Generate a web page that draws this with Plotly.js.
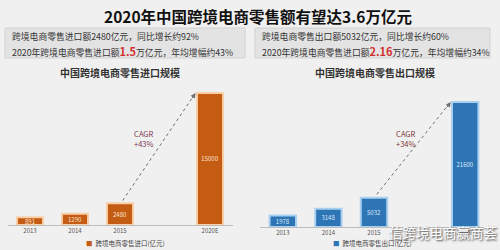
<!DOCTYPE html>
<html><head><meta charset="utf-8">
<script src="https://cdn.plot.ly/plotly-3.0.1.min.js"></script>
<style>html,body{margin:0;padding:0;background:#f1f0f0;}#c{width:500px;height:250px;}</style>
</head><body><div id="c"></div>
<script>
const categories = ['2013','2014','2015',' ','2020E'];
const importYears = ['2013','2014','2015','2020E'];
const importValues = [891, 1290, 2480, 15000];
const exportYears = ['2013','2014','2015','2020E'];
const exportValues = [1978, 3148, 5032, 21600];
const importName = '跨境电商零售进口(亿元)';
const exportName = '跨境电商零售出口(亿元)';
const importCAGR = '+43%';
const exportCAGR = '+34%';

const FONT = 'Noto Sans CJK SC, Noto Sans, sans-serif';
const IMP = '#c55c14', EXP = '#2e75b6';
const idx = y => categories.indexOf(y);

const traces = [
  {type:'bar', x: importYears, y: importValues, name: importName, xaxis:'x', yaxis:'y',
   marker:{color:IMP, line:{color:'#f9cfa8', width:2}},
   text: importValues.map(String), textposition:'inside', insidetextanchor:'middle', constraintext:'none',
   textfont:{color:'#fbe3cf', size:6, family:FONT}, hoverinfo:'skip'},
  {type:'bar', x: exportYears, y: exportValues, name: exportName, xaxis:'x2', yaxis:'y2',
   marker:{color:EXP, line:{color:'#a9d1ef', width:2}},
   text: exportValues.map(String), textposition:'inside', insidetextanchor:'middle', constraintext:'none',
   textfont:{color:'#d8e8f6', size:6, family:FONT}, hoverinfo:'skip'}
];

const axX = {type:'category', categoryorder:'array', categoryarray: categories, showline:true, linecolor:'#bdbdbd', linewidth:1,
  ticks:'', showgrid:false, zeroline:false, tickfont:{size:6, color:'#555', family:FONT}, fixedrange:true};

function arrow(xa, ya, years, vals){
  const i0 = idx(years[2]), i1 = idx(years[3]);
  return {type:'line', xref:xa, yref:ya, x0:i0+0.06, y0:vals[2]*1.12, x1:i1-0.32, y1:vals[3],
    line:{color:'#6f6f6f', width:1, dash:'dot'}};
}
function arrowHead(xa, ya, years, vals, ax, ay){
  const i1 = idx(years[3]);
  return {xref:xa, yref:ya, x:i1-0.32, y:vals[3], ax:ax, ay:ay, axref:'pixel', ayref:'pixel', text:'',
    showarrow:true, arrowhead:2, arrowsize:1, arrowwidth:1, arrowcolor:'#6f6f6f'};
}
function legendItem(x, name, color){
  return {xref:'paper', yref:'paper', x:x, y:0.028, xanchor:'left', yanchor:'middle', showarrow:false,
    text:'<span style="color:'+color+'">■</span>  '+name, font:{size:6.5, color:'#444', family:FONT}};
}

const layout = {
  width:500, height:250, margin:{l:0,r:0,t:0,b:0},
  paper_bgcolor:'#f1f0f0', plot_bgcolor:'rgba(0,0,0,0)',
  showlegend:false, bargap:0.42,
  font:{family:FONT},
  xaxis: Object.assign({domain:[0.015,0.465], anchor:'y'}, axX),
  xaxis2: Object.assign({domain:[0.52,0.976], anchor:'y2'}, axX),
  yaxis: {domain:[0.1,0.66], range:[0,15900], visible:false, fixedrange:true},
  yaxis2: {domain:[0.092,0.62], range:[0,22800], visible:false, fixedrange:true},
  shapes: [
    {type:'rect', xref:'paper', yref:'paper', x0:0.01, x1:0.49, y0:0.768, y1:0.888, fillcolor:'#e4e3e3', line:{color:'#d2d2d2', width:1}, layer:'below'},
    {type:'rect', xref:'paper', yref:'paper', x0:0.51, x1:0.98, y0:0.768, y1:0.888, fillcolor:'#e4e3e3', line:{color:'#d2d2d2', width:1}, layer:'below'},
    arrow('x','y', importYears, importValues),
    arrow('x2','y2', exportYears, exportValues)
  ],
  annotations: [
    {xref:'paper', yref:'paper', x:0.515, y:0.936, xanchor:'center', yanchor:'middle', showarrow:false,
     text:'<b>2020年中国跨境电商零售额有望达3.6万亿元</b>', font:{size:15.5, color:'#111', family:FONT}},
    {xref:'paper', yref:'paper', x:0.02, y:0.853, xanchor:'left', yanchor:'middle', showarrow:false,
     text:'跨境电商零售进口额2480亿元，同比增长约92%', font:{size:8.8, color:'#333', family:FONT}},
    {xref:'paper', yref:'paper', x:0.02, y:0.796, xanchor:'left', yanchor:'middle', showarrow:false,
     text:'2020年跨境电商零售进口额<span style="color:#d23030;font-size:11px"><b>1.5</b></span>万亿元，年均增幅约43%', font:{size:8.8, color:'#333', family:FONT}},
    {xref:'paper', yref:'paper', x:0.52, y:0.853, xanchor:'left', yanchor:'middle', showarrow:false,
     text:'跨境电商零售出口额5032亿元，同比增长约60%', font:{size:8.8, color:'#333', family:FONT}},
    {xref:'paper', yref:'paper', x:0.52, y:0.796, xanchor:'left', yanchor:'middle', showarrow:false,
     text:'2020年跨境电商零售进口额<span style="color:#d23030;font-size:11px"><b>2.16</b></span>万亿元，年均增幅约34%', font:{size:8.8, color:'#333', family:FONT}},
    {xref:'paper', yref:'paper', x:0.24, y:0.712, xanchor:'center', yanchor:'middle', showarrow:false,
     text:'<b>中国跨境电商零售进口规模</b>', font:{size:10, color:'#333', family:FONT}},
    {xref:'paper', yref:'paper', x:0.75, y:0.712, xanchor:'center', yanchor:'middle', showarrow:false,
     text:'<b>中国跨境电商零售出口规模</b>', font:{size:10, color:'#333', family:FONT}},
    {xref:'paper', yref:'paper', x:0.288, y:0.445, xanchor:'center', yanchor:'middle', showarrow:false,
     text:'CAGR<br>'+importCAGR, align:'center', font:{size:7.5, color:'#7a3550', family:FONT}},
    {xref:'paper', yref:'paper', x:0.812, y:0.445, xanchor:'center', yanchor:'middle', showarrow:false,
     text:'CAGR<br>'+exportCAGR, align:'center', font:{size:7.5, color:'#7a3535', family:FONT}},
    arrowHead('x','y', importYears, importValues, -4.5, 6.6),
    arrowHead('x2','y2', exportYears, exportValues, -4.5, 6.7),
    legendItem(0.168, importName, IMP),
    legendItem(0.662, exportName, EXP),
    {xref:'paper', yref:'paper', x:0.998, y:0.072, xanchor:'right', yanchor:'middle', showarrow:false,
     text:'信跨境电商赢商荟', font:{size:13.5, color:'#ffffff', family:FONT, shadow:'1px 1px 2px #333'}}
  ]
};

Plotly.newPlot('c', traces, layout, {staticPlot:true, displayModeBar:false});
</script></body></html>
